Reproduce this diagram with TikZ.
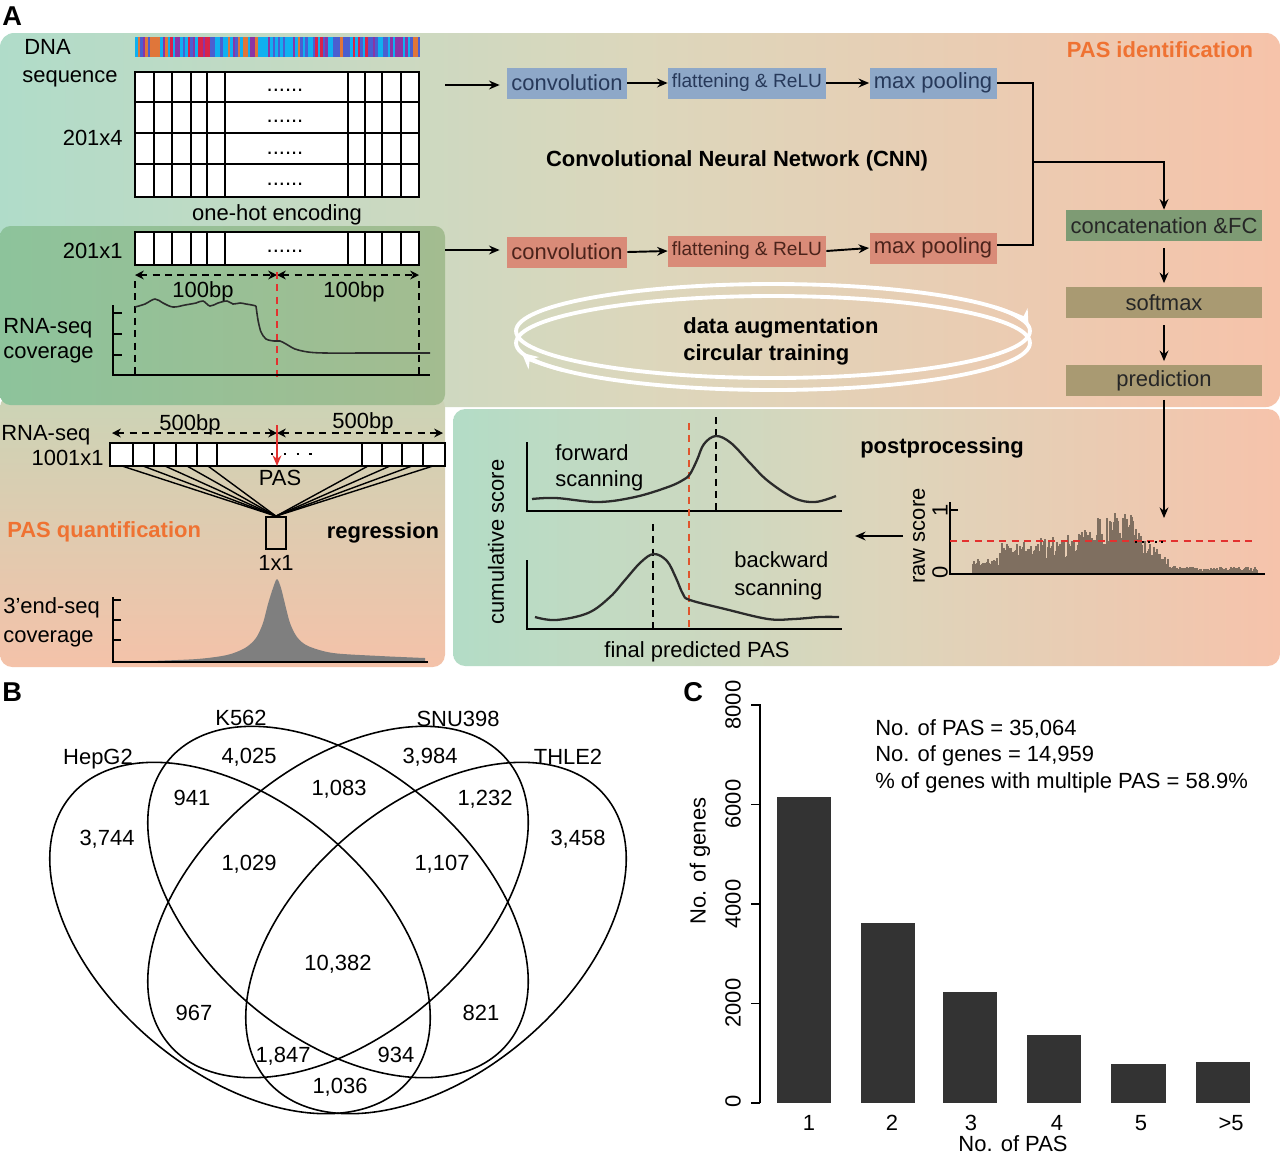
\documentclass[tikz,border=0pt]{standalone}
\usepackage{fontspec}
\setmainfont{Liberation Sans}
\usetikzlibrary{arrows.meta}
\definecolor{topL}{HTML}{B0DCC9}
\definecolor{topM}{HTML}{DCD7BC}
\definecolor{topR}{HTML}{F6C3AA}
\definecolor{gL}{HTML}{8DC39B}
\definecolor{gR}{HTML}{A3BC90}
\definecolor{qT}{HTML}{CBD4B6}
\definecolor{qB}{HTML}{F4C2A9}
\definecolor{pL}{HTML}{B3DCC6}
\definecolor{pM}{HTML}{DCD6BC}
\definecolor{pR}{HTML}{F6C3AB}
\definecolor{bluebox}{HTML}{8EA8C8}
\definecolor{bluetxt}{HTML}{27395A}
\definecolor{redbox}{HTML}{D98B78}
\definecolor{redtxt}{HTML}{4B231B}
\definecolor{concol}{HTML}{7E9B74}
\definecolor{olivecol}{HTML}{A99A72}
\definecolor{orng}{HTML}{EF7232}
\definecolor{redd}{HTML}{E3312F}
\definecolor{redo}{HTML}{E0552C}
\definecolor{curvecol}{HTML}{2B2B2B}
\definecolor{barcol}{HTML}{333333}
\definecolor{rawcol}{HTML}{7F6F60}
\definecolor{peakcol}{HTML}{7F7F7F}
\definecolor{dna1}{HTML}{4A5FD0}
\definecolor{dna2}{HTML}{10B0F0}
\definecolor{dna3}{HTML}{10B0F0}
\definecolor{dna4}{HTML}{8A35A5}
\definecolor{dna5}{HTML}{E0763A}
\definecolor{dna6}{HTML}{D8234A}
\definecolor{dna7}{HTML}{4A5FD0}
\definecolor{dna8}{HTML}{10B0F0}
\tikzset{
  txt/.style={font=\fontsize{12.5}{14}\selectfont, inner sep=0pt},
  btxt/.style={font=\bfseries\fontsize{12.5}{14}\selectfont, inner sep=0pt},
  plab/.style={font=\bfseries\fontsize{15.5}{17}\selectfont, inner sep=0pt},
  gridln/.style={line width=1.1pt},
  arw/.style={-{Stealth[length=6pt,width=5pt]}, line width=1.1pt},
  dbl/.style={{Stealth[length=5pt,width=5pt]}-{Stealth[length=5pt,width=5pt]}, line width=0.9pt, dash pattern=on 4pt off 3pt},
  cbox/.style={minimum height=0.62cm, inner sep=0pt, font=\fontsize{12.5}{14}\selectfont},
  axisln/.style={line width=0.9pt},
  curveln/.style={line width=0.9pt, draw=curvecol},
  vdash/.style={line width=0.8pt, dash pattern=on 4pt off 3pt},
  loopln/.style={white, line width=2.2pt},
  venn/.style={line width=0.9pt},
  rawbar/.style={draw=rawcol, line width=0.75pt}
}
\begin{document}
\begin{tikzpicture}[x=0.02cm,y=-0.02cm]
\fill[white] (0,0) rectangle (1280,1154);
\useasboundingbox (0,0) rectangle (1280,1154);

% ---------- panel backgrounds ----------
\shade[left color=topL, right color=topR, middle color=topM, rounded corners=8pt] (0,33) rectangle (1280,407);
\shade[top color=qT, bottom color=qB, rounded corners=7pt] (0,395) rectangle (445,667);
\shade[left color=gL, right color=gR, rounded corners=6pt] (0,226) rectangle (445,405);
\shade[left color=pL, right color=pR, middle color=pM, rounded corners=7pt] (453,409) rectangle (1280,666);

% ---------- panel labels ----------
\node[plab, anchor=base west] (labA) at (2,25) {A};
\node[plab, anchor=base west] (labB) at (2,701) {B};
\node[plab, anchor=base west] (labC) at (683,701) {C};

% ---------- DNA sequence ----------
\node[txt, anchor=base west] (tdna) at (24,54) {DNA};
\node[txt, anchor=base west] (tseq) at (22,82) {sequence};
\pgfmathsetseed{731}
\foreach \i in {0,...,113} {
  \pgfmathrandominteger{\dnac}{1}{8}
  \fill[dna\dnac] (135+2.5*\i,37) rectangle (137.6+2.5*\i,57);
}
\foreach \ya/\yb in {72/102, 102/133, 133/164, 164/197} {
  \draw[gridln, fill=white] (135,\ya) rectangle (419,\yb);
  \foreach \xx in {154,172,191,207,225,348,365,382,401} \draw[gridln] (\xx,\ya) -- (\xx,\yb);
}
\node[txt, anchor=base] (dots1) at (285,91) {......};
\node[txt, anchor=base] (dots2) at (285,122) {......};
\node[txt, anchor=base] (dots3) at (285,154) {......};
\node[txt, anchor=base] (dots4) at (285,185) {......};
\node[txt, anchor=base east] (t201x4) at (123,145) {201x4};
\node[txt, anchor=base] (tohe) at (277,220) {one-hot encoding};

% ---------- RNA-seq 201x1 ----------
\node[txt, anchor=base east] (t201x1) at (123,258) {201x1};
\draw[gridln, fill=white] (135,232) rectangle (419,265);
\foreach \xx in {154,172,191,207,225,348,365,382,401} \draw[gridln] (\xx,232) -- (\xx,265);
\node[txt, anchor=base] (dots5) at (285,252) {......};
\coordinate (bpL) at (135,275);
\coordinate (bpM) at (277,275);
\coordinate (bpR) at (419,275);
\draw[dbl] (bpL) -- (bpM);
\draw[dbl] (bpM) -- (bpR);
\node[txt, anchor=base] (t100a) at (203,297) {100bp};
\node[txt, anchor=base] (t100b) at (354,297) {100bp};
\draw[vdash] (135,281) -- (135,376);
\draw[vdash] (419,281) -- (419,376);
\draw[vdash, redd] (277,272) -- (277,378);
\draw[axisln] (113,305) -- (113,375) -- (430,375);
\foreach \yy in {313,334,355} \draw[axisln] (113,\yy) -- (122,\yy);
\draw[curveln] plot[smooth, tension=0.6] coordinates {(135,307) (145,304) (155,299) (163,303) (173,307) (185,305) (196,303) (203,301) (210,306) (218,303) (227,301) (233,304) (240,303) (246,304) (252,305) (256,306)};
\draw[curveln] plot[smooth, tension=0.5] coordinates {(256,306) (258,320) (261,332) (266,339) (274,341) (280,341) (286,344) (295,349) (308,352) (325,353) (370,353) (430,353)};
\node[txt, anchor=base west] (trna1) at (3,333) {RNA-seq};
\node[txt, anchor=base west] (tcov1) at (3,358) {coverage};

% ---------- CNN ----------
\node[cbox, fill=bluebox, text=bluetxt, minimum width=2.4cm] (conv1) at (567,83) {convolution};
\node[cbox, fill=bluebox, text=bluetxt, minimum width=3.16cm, font=\fontsize{10.9}{13}\selectfont] (flat1) at (747,83) {flattening \& ReLU};
\node[cbox, fill=bluebox, text=bluetxt, minimum width=2.54cm] (pool1) at (933,83) {max pooling};
\node[cbox, fill=redbox, text=redtxt, minimum width=2.4cm] (conv2) at (567,252) {convolution};
\node[cbox, fill=redbox, text=redtxt, minimum width=3.16cm, font=\fontsize{10.9}{13}\selectfont] (flat2) at (747,251) {flattening \& ReLU};
\node[cbox, fill=redbox, text=redtxt, minimum width=2.54cm] (pool2) at (933,248) {max pooling};
\coordinate (in1) at (445,85);
\coordinate (in2) at (445,250);
\draw[arw, shorten >=4pt] (in1) -- (conv1.west |- in1);
\draw[arw, shorten >=4pt] (in2) -- (conv2.west |- in2);
\draw[arw] (conv1.east) -- (flat1.west);
\draw[arw] (flat1.east) -- (pool1.west);
\draw[arw] (conv2.east) -- (flat2.west);
\draw[arw] (flat2.east) -- (pool2.west);
\coordinate (jtop) at (1033,83);
\coordinate (jbot) at (1033,245);
\coordinate (jmid) at (1033,162);
\draw[line width=1.1pt] (pool1.east) -- (jtop) -- (jbot) -- (pool2.east |- jbot);
\node[btxt] (tcnn) at (737,161) {Convolutional Neural Network (CNN)};
\node[btxt, text=orng, anchor=base] (tpasid) at (1160,57) {PAS identification};
\node[cbox, fill=concol, text=black!85, minimum width=3.92cm] (concat) at (1164,225.5) {concatenation \&FC};
\node[cbox, fill=olivecol, text=black!85, minimum width=3.92cm] (softmax) at (1164,302.5) {softmax};
\node[cbox, fill=olivecol, text=black!85, minimum width=3.92cm] (pred) at (1164,380.5) {prediction};
\draw[arw, line width=1pt] (jmid) -| (concat.north);
\draw[arw, line width=1pt, shorten <=4pt, shorten >=2pt] (concat.south) -- (softmax.north);
\draw[arw, line width=1pt, shorten <=4pt, shorten >=2pt] (softmax.south) -- (pred.north);
\coordinate (rawtop) at (1164,518);
\draw[arw, line width=1pt, shorten <=2pt] (pred.south) -- (rawtop);

% ---------- circular training ----------
\draw[loopln] (773,331) ellipse [x radius=5.14cm, y radius=0.94cm];
\draw[loopln] (773,343) ellipse [x radius=5.14cm, y radius=0.94cm];
\draw[loopln, -{Stealth[length=9pt,width=9pt]}] (773,331) ++(30:5.14cm and 0.94cm) arc[start angle=30, end angle=6, x radius=5.14cm, y radius=0.94cm];
\draw[loopln, -{Stealth[length=9pt,width=9pt]}] (773,343) ++(215:5.14cm and 0.94cm) arc[start angle=215, end angle=192, x radius=5.14cm, y radius=0.94cm];
\node[btxt, anchor=base west] (tda) at (683,333) {data augmentation};
\node[btxt, anchor=base west] (tct) at (683,360) {circular training};

% ---------- PAS quantification ----------
\node[txt, anchor=base west] (trna2) at (1,440) {RNA-seq};
\node[txt, anchor=base east] (t1001) at (104,465) {1001x1};
\coordinate (qL) at (112,433);
\coordinate (qM) at (277,433);
\coordinate (qR) at (443,433);
\draw[dbl] (qL) -- (qM);
\draw[dbl] (qM) -- (qR);
\node[txt, anchor=base] (t500a) at (190,430) {500bp};
\node[txt, anchor=base] (t500b) at (363,428) {500bp};
\draw[gridln, fill=white] (110,443) rectangle (445,466);
\foreach \xx in {133,154,176,197,217,362,382,402,423} \draw[gridln] (\xx,443) -- (\xx,466);
\draw[line width=1.3pt, dash pattern=on 1.3pt off 6pt] (271,454) -- (314,454);
\coordinate (pasA) at (277,425);
\coordinate (pasB) at (277,466);
\draw[redd, line width=1.1pt, -{Stealth[length=6pt,width=5pt]}] (pasA) -- (pasB);
\node[txt, anchor=base] (tpas) at (280,485) {PAS};
\node[draw, line width=1pt, minimum width=0.4cm, minimum height=0.64cm, inner sep=0pt] (onebox) at (276,533) {};
\foreach \xx in {122,143,165,187,208,368,390,412,433} \draw[line width=0.8pt] (\xx,466) -- (onebox.north);
\node[txt, anchor=base] (t1x1) at (276,570) {1x1};
\node[btxt, text=orng, anchor=base west] (tpasq) at (7,537) {PAS quantification};
\node[btxt, anchor=base] (treg) at (383,538) {regression};
\fill[peakcol] plot[smooth, tension=0.5] coordinates {(150,661) (197,659) (227,655) (245,648) (256,638) (263,623) (268,604) (273,588) (277,579) (281,588) (285,604) (290,623) (297,637) (308,646) (333,653) (380,656) (425,658)} -- (425,661) -- cycle;
\draw[axisln] (113,597) -- (113,662) -- (428,662);
\foreach \yy in {600,620,640} \draw[axisln] (113,\yy) -- (121,\yy);
\node[txt, anchor=base west] (t3end) at (3,613) {3’end-seq};
\node[txt, anchor=base west] (tcov2) at (3,642) {coverage};

% ---------- postprocessing ----------
\node[txt, rotate=90] (tcum) at (496,542) {cumulative score};
\draw[axisln] (527,442) -- (527,511) -- (842,511);
\draw[axisln] (527,560) -- (527,629) -- (842,629);
\draw[vdash, redo] (689,423) -- (689,630);
\draw[vdash] (716,417) -- (716,510);
\draw[vdash] (653,524) -- (653,629);
\draw[line width=1.3pt, curvecol] plot[smooth, tension=0.6] coordinates {(532,499) (556,498) (598,502) (635,497) (668,487) (683,480) (690,474) (697,460) (704,444) (716,436) (731,443) (750,463) (768,481) (794,498) (815,502) (836,496)};
\draw[line width=1.3pt, curvecol] plot[smooth, tension=0.6] coordinates {(535,617) (556,620) (588,613) (610,597) (625,580) (641,562) (654,554) (667,561) (676,578) (683,594) (690,600) (725,609) (768,619) (794,619) (820,617) (839,617)};
\node[txt, anchor=base west] (tfw1) at (555,460) {forward};
\node[txt, anchor=base west] (tfw2) at (555,486) {scanning};
\node[txt, anchor=base west] (tbw1) at (734,567) {backward};
\node[txt, anchor=base west] (tbw2) at (734,595) {scanning};
\node[txt, anchor=base] (tfinal) at (697,657) {final predicted PAS};
\node[btxt, anchor=base] (tpost) at (942,453) {postprocessing};
\coordinate (laR) at (903,536);
\coordinate (laL) at (855,536);
\draw[arw] (laR) -- (laL);

% raw score
\node[txt, rotate=90] (traw) at (919,536) {raw score};
\node[txt, rotate=90] (traw1) at (940,510) {1};
\node[txt, rotate=90] (traw0) at (940,572) {0};
\pgfmathsetseed{4242}
\foreach \xx in {973,974,...,1257} {
  \pgfmathsetmacro{\env}{(\xx<1000)?17:((\xx<1040)?32:((\xx<1068)?37:((\xx<1095)?44:((\xx<1138)?62:((\xx<1178)?(42-(\xx-1138)*0.85):7)))))}
  \pgfmathsetmacro{\hh}{\env*(0.42+0.58*rnd)}
  \draw[rawbar] (\xx,574) -- (\xx,574-\hh);
}
\draw[axisln] (950,502) -- (950,574) -- (1265,574);
\draw[axisln] (950,510) -- (958,510);
\draw[vdash, redd] (950,541) -- (1255,541);
\draw[line width=1.2pt, dash pattern=on 1.2pt off 2.5pt] (1135,542) -- (1167,542);

% ---------- Venn diagram ----------
\draw[venn, rotate around={-40:(240,938)}] (240,938) ellipse [x radius=4.42cm, y radius=2.70cm];
\draw[venn, rotate around={-40:(338,902)}] (338,902) ellipse [x radius=4.42cm, y radius=2.70cm];
\draw[venn, rotate around={40:(338,902)}] (338,902) ellipse [x radius=4.42cm, y radius=2.70cm];
\draw[venn, rotate around={40:(436,938)}] (436,938) ellipse [x radius=4.42cm, y radius=2.70cm];
\node[txt, anchor=base] (vHep) at (98,764) {HepG2};
\node[txt, anchor=base] (vK) at (241,725) {K562};
\node[txt, anchor=base] (vS) at (458,726) {SNU398};
\node[txt, anchor=base] (vT) at (568,764) {THLE2};
\node[txt, anchor=base] (n4025) at (249,763) {4,025};
\node[txt, anchor=base] (n3984) at (430,763) {3,984};
\node[txt, anchor=base] (n941) at (192,805) {941};
\node[txt, anchor=base] (n1083) at (339,795) {1,083};
\node[txt, anchor=base] (n1232) at (485,805) {1,232};
\node[txt, anchor=base] (n3744) at (107,845) {3,744};
\node[txt, anchor=base] (n3458) at (578,845) {3,458};
\node[txt, anchor=base] (n1029) at (249,870) {1,029};
\node[txt, anchor=base] (n1107) at (442,870) {1,107};
\node[txt, anchor=base] (n10382) at (338,970) {10,382};
\node[txt, anchor=base] (n967) at (194,1020) {967};
\node[txt, anchor=base] (n821) at (481,1020) {821};
\node[txt, anchor=base] (n1847) at (283,1062) {1,847};
\node[txt, anchor=base] (n934) at (396,1062) {934};
\node[txt, anchor=base] (n1036) at (340,1093) {1,036};

% ---------- bar chart ----------
\draw[axisln] (760,1103) -- (760,704);
\foreach \yy in {1103, 1003.5, 904, 804.5, 705} {
  \draw[axisln] (760,\yy) -- (751,\yy);
}
\node[txt, rotate=90] (tk0) at (733,1101) {0};
\node[txt, rotate=90] (tk2) at (733,1003) {2000};
\node[txt, rotate=90] (tk4) at (733,904) {4000};
\node[txt, rotate=90] (tk6) at (733,804) {6000};
\node[txt, rotate=90] (tk8) at (733,705) {8000};
\node[txt, rotate=90] (tgenes) at (700,861) {No. of genes};
\fill[barcol] (777,1103) rectangle (831,797);
\fill[barcol] (861,1103) rectangle (915,923);
\fill[barcol] (943,1103) rectangle (997,992);
\fill[barcol] (1027,1103) rectangle (1081,1035);
\fill[barcol] (1111,1103) rectangle (1166,1064);
\fill[barcol] (1196,1103) rectangle (1250,1062);
\node[txt, anchor=base] (x1) at (809,1130) {1};
\node[txt, anchor=base] (x2) at (892,1130) {2};
\node[txt, anchor=base] (x3) at (971,1130) {3};
\node[txt, anchor=base] (x4) at (1057,1130) {4};
\node[txt, anchor=base] (x5) at (1141,1130) {5};
\node[txt, anchor=base] (x6) at (1231,1130) {>5};
\node[txt, anchor=base] (tnopas) at (1013,1151) {No. of PAS};
\node[txt, anchor=base west] (s1) at (875,735) {No. of PAS = 35,064};
\node[txt, anchor=base west] (s2) at (875,761) {No. of genes = 14,959};
\node[txt, anchor=base west] (s3) at (875,788) {\% of genes with multiple PAS = 58.9\%};
\end{tikzpicture}
\end{document}
